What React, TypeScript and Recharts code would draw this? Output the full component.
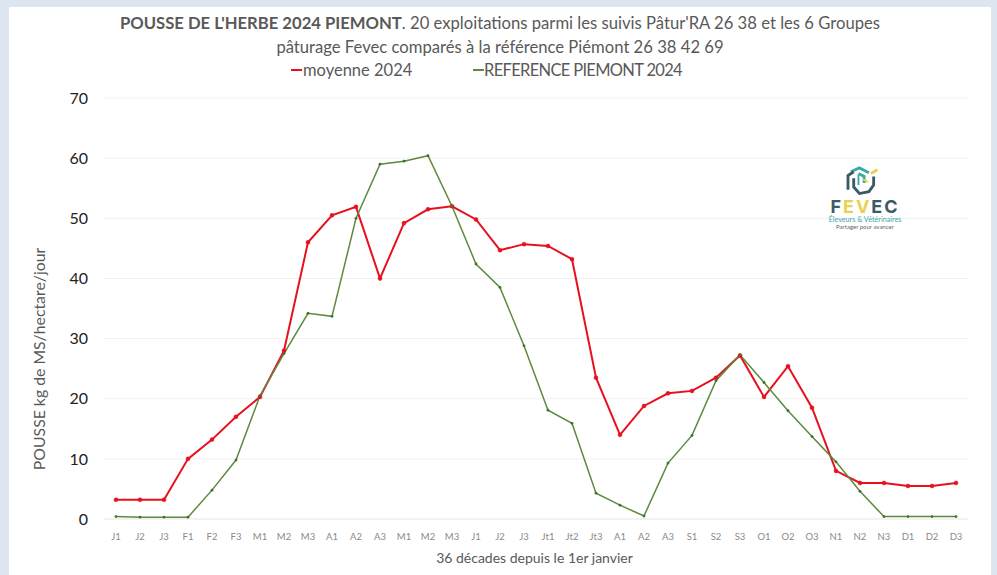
import React from "react";
import { LineChart, Line, XAxis, YAxis, CartesianGrid, Legend, Label } from "recharts";

const decades = ["J1","J2","J3","F1","F2","F3","M1","M2","M3","A1","A2","A3","M1","M2","M3","J1","J2","J3","Jt1","Jt2","Jt3","A1","A2","A3","S1","S2","S3","O1","O2","O3","N1","N2","N3","D1","D2","D3"];
const moyenne2024 = [3.2,3.2,3.2,10,13.2,17,20.3,28,46,50.5,51.9,40,49.2,51.5,52,49.8,44.7,45.7,45.4,43.2,23.5,14,18.8,20.9,21.3,23.5,27.2,20.3,25.4,18.5,8,6,6,5.5,5.5,6];
const reference2024 = [0.4,0.3,0.3,0.3,4.8,9.8,20.5,27.5,34.2,33.7,50,59,59.5,60.4,52,42.4,38.5,28.8,18.1,15.9,4.3,2.3,0.5,9.3,13.9,23,27.3,22.7,18,13.7,9.5,4.6,0.4,0.4,0.4,0.4];
const yTicks = [0,10,20,30,40,50,60,70];
const seriesNames = ["moyenne 2024","REFERENCE PIEMONT 2024"];
const chartData = decades.map((d,i)=>({decade:d,moyenne:moyenne2024[i],reference:reference2024[i]}));

const RED="#e8101e", GREEN="#5d8a3f", FONT="Lato, 'Open Sans', sans-serif";

const LegendContent = () => (
  <div style={{position:"absolute",left:0,top:0,width:997,height:20,fontFamily:FONT,fontSize:16.5,color:"#595959"}}>
    <span style={{position:"absolute",left:291,top:9,width:11,height:2,background:RED}}/>
    <span style={{position:"absolute",left:303,top:0,whiteSpace:"nowrap"}}>{seriesNames[0]}</span>
    <span style={{position:"absolute",left:473,top:9,width:11,height:1.5,background:GREEN}}/>
    <span style={{position:"absolute",left:484,top:0,whiteSpace:"nowrap",letterSpacing:-0.68}}>{seriesNames[1]}</span>
  </div>
);

const Logo = () => (
  <svg width={100} height={70} viewBox="0 0 100 70" style={{position:"absolute",left:821,top:162}}>
    <g fill="none" strokeWidth={3} transform="translate(8,4) scale(0.95)">
      <path d="M23 6 L32 2 L42 7" stroke="#3fa7a8"/>
      <path d="M31 8 L37 11 L37 18" stroke="#3fa7a8"/>
      <path d="M31 9 L31 20" stroke="#3fa7a8" strokeWidth={2}/>
      <path d="M26 6 L20 10 L20 25" stroke="#3c5a66"/>
      <path d="M26 13 L26 22 L32 29 L42 27 L47 20 L47 11" stroke="#3c5a66"/>
      <path d="M44 8 L51 4" stroke="#e9d24d"/>
      <path d="M36 14 L41 17" stroke="#e9d24d" strokeWidth={2}/>
    </g>
    <text x={44} y={51} textAnchor="middle" fontFamily="Inter, sans-serif" fontWeight={700} fontSize={18} letterSpacing={2}>
      <tspan fill="#3c5a66">F</tspan><tspan fill="#e9d24d">EV</tspan><tspan fill="#3c5a66">EC</tspan>
    </text>
    <text x={44} y={60} textAnchor="middle" fontFamily={FONT} fontSize={7.2} fill="#3fa7a8">Éleveurs &amp; Vétérinaires</text>
    <text x={44} y={67} textAnchor="middle" fontFamily={FONT} fontSize={6} fill="#666">Partager pour avancer</text>
  </svg>
);

export default function App(){
  return (
    <div style={{position:"absolute",left:0,top:0,width:997,height:575,background:"#dde6f0",overflow:"hidden"}}>
      <div style={{position:"absolute",left:9,top:7,width:982,height:568,background:"#ffffff"}}/>
      <div style={{position:"absolute",left:0,top:11,width:1000,textAlign:"center",fontFamily:FONT,fontSize:16.65,color:"#595959",lineHeight:"24px"}}>
        <div><b>POUSSE DE L'HERBE 2024 PIEMONT</b>. 20 exploitations parmi les suivis Pâtur'RA 26 38 et les 6 Groupes</div>
        <div>pâturage Fevec comparés à la référence Piémont 26 38 42 69</div>
      </div>
      <div style={{position:"absolute",left:0,top:0}}>
        <LineChart width={997} height={575} data={chartData} margin={{top:98,right:29,bottom:0,left:0}}>
          <CartesianGrid horizontal vertical={false} stroke="#f0f0f0" strokeWidth={1}/>
          <XAxis dataKey="decade" interval={0} padding={{left:12,right:12}} axisLine={{stroke:"#eeeeee"}} tickLine={false} tickMargin={8} tick={{fontSize:9.5,fill:"#8a8a8a",fontFamily:FONT}} height={56}>
            <Label value="36 décades depuis le 1er janvier" content={(p:any)=>(
              <text x={534.5} y={557} textAnchor="middle" dominantBaseline="central" fontSize={14} fill="#595959" fontFamily={FONT}>{p.value}</text>
            )}/>
          </XAxis>
          <YAxis width={104} domain={[0,70]} ticks={yTicks} axisLine={false} tickLine={false} tickSize={0} tickMargin={16} tick={{fontSize:16,fill:"#222222",fontFamily:FONT}}>
            <Label value="POUSSE kg de MS/hectare/jour" content={(p:any)=>(
              <text x={38} y={359} transform="rotate(-90 38 359)" textAnchor="middle" dominantBaseline="central" fontSize={15.8} fill="#595959" fontFamily={FONT}>{p.value}</text>
            )}/>
          </YAxis>
          <Legend content={<LegendContent/>} wrapperStyle={{position:"absolute",left:0,top:60,width:997,height:0}}/>
          <Line dataKey="moyenne" name={seriesNames[0]} stroke={RED} strokeWidth={2} dot={{r:2,fill:RED,stroke:RED,strokeWidth:0.5}} isAnimationActive={false}/>
          <Line dataKey="reference" name={seriesNames[1]} stroke={GREEN} strokeWidth={1.5} dot={{r:1.4,fill:"#44702c",stroke:"none"}} isAnimationActive={false}/>
        </LineChart>
      </div>
      <Logo/>
    </div>
  );
}
